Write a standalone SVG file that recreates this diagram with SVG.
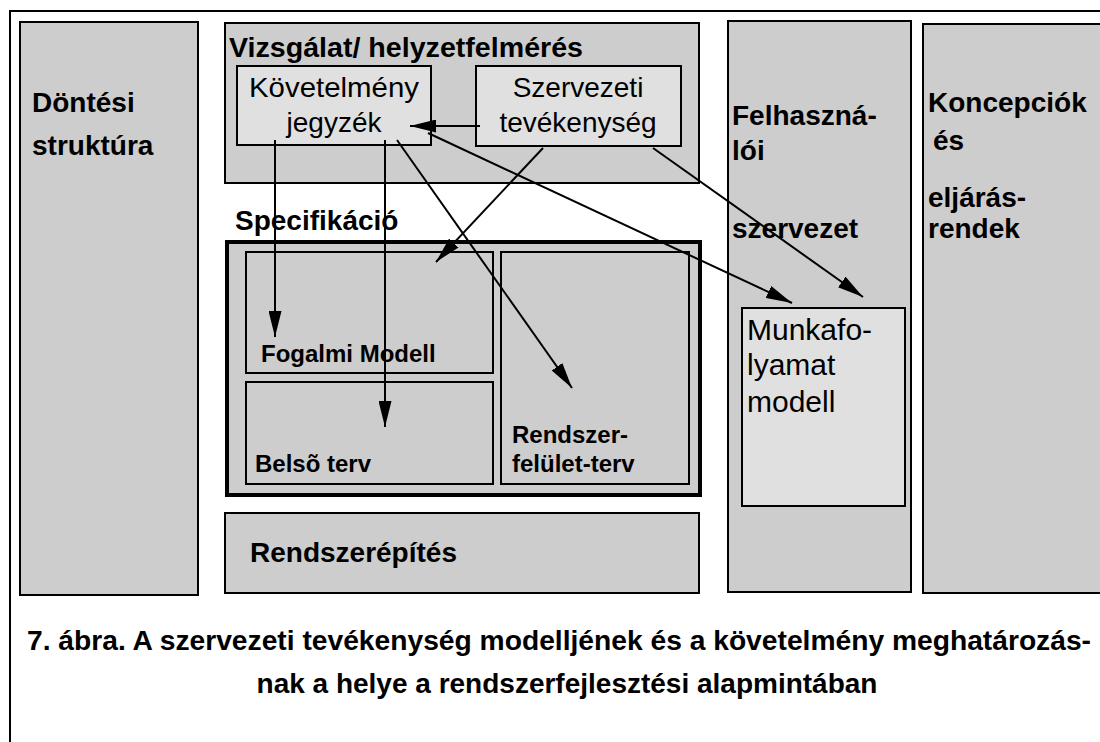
<svg xmlns="http://www.w3.org/2000/svg" width="1100" height="742" viewBox="0 0 1100 742">
<style>
text{font-family:"Liberation Sans",Arial,sans-serif;fill:#000}
.b{font-weight:bold;font-size:28px}
.bs{font-weight:bold;font-size:24px}
.r{font-size:28px}
.rm{font-size:30px}
.col{fill:#cdcdcd;stroke:#000;stroke-width:2}
.lt{fill:#e0e0e0;stroke:#000;stroke-width:2}
.con line{stroke:#000;stroke-width:2;marker-end:url(#ah)}
</style>
<defs>
<marker id="ah" markerUnits="userSpaceOnUse" markerWidth="26" markerHeight="13" refX="26" refY="6.5" orient="auto">
<path d="M0,0 L26,6.5 L0,13 z" fill="#000"/>
</marker>
</defs>
<rect x="0" y="0" width="1100" height="742" fill="#fff"/>
<rect id="frame" x="10" y="11" width="1200" height="800" fill="none" stroke="#000" stroke-width="2"/>

<g id="dontesi">
<rect class="col" x="20" y="22" width="178" height="573"/>
<text class="b" x="32" y="112">Döntési</text>
<text class="b" x="32" y="155">struktúra</text>
</g>

<g id="vizsgalat">
<rect class="col" x="225" y="23" width="474" height="160"/>
<text class="b" x="229" y="57" textLength="354" lengthAdjust="spacingAndGlyphs">Vizsgálat/ helyzetfelmérés</text>
</g>
<g id="kovetelmeny">
<rect class="lt" x="237" y="66" width="194" height="79"/>
<text class="r" x="334" y="97" text-anchor="middle" textLength="170" lengthAdjust="spacingAndGlyphs">Követelmény</text>
<text class="r" x="334" y="132" text-anchor="middle">jegyzék</text>
</g>
<g id="szervezeti">
<rect class="lt" x="476" y="66" width="205" height="80"/>
<text class="r" x="578" y="97" text-anchor="middle">Szervezeti</text>
<text class="r" x="578" y="132" text-anchor="middle">tevékenység</text>
</g>

<g id="specifikacio">
<text class="b" x="235" y="230">Specifikáció</text>
<rect x="227" y="242" width="473" height="253" fill="#cdcdcd" stroke="#000" stroke-width="4"/>
</g>
<g id="fogalmi">
<rect class="col" x="246" y="252" width="247" height="121"/>
<text class="bs" x="261" y="362">Fogalmi Modell</text>
</g>
<g id="belso">
<rect class="col" x="246" y="382" width="247" height="102"/>
<text class="bs" x="255" y="472">Belsõ terv</text>
</g>
<g id="rendszerfelulet">
<rect class="col" x="501" y="252" width="188" height="232"/>
<text class="bs" x="512" y="443">Rendszer-</text>
<text class="bs" x="512" y="472">felület-terv</text>
</g>

<g id="rendszerepites">
<rect class="col" x="225" y="513" width="474" height="80"/>
<text class="b" x="250" y="562">Rendszerépítés</text>
</g>

<g id="felhasznaloi">
<rect class="col" x="728" y="21" width="183" height="571"/>
<text class="b" x="732" y="125">Felhaszná-</text>
<text class="b" x="732" y="160">lói</text>
<text class="b" x="732" y="238">szervezet</text>
</g>
<g id="munkafolyamat">
<rect class="lt" x="742" y="308" width="163" height="198"/>
<text class="rm" x="747" y="340">Munkafo-</text>
<text class="rm" x="747" y="375">lyamat</text>
<text class="rm" x="747" y="412">modell</text>
</g>

<g id="koncepciok">
<rect class="col" x="923" y="24" width="250" height="569"/>
<text class="b" x="928" y="112">Koncepciók</text>
<text class="b" x="933" y="150">és</text>
<text class="b" x="928" y="207">eljárás-</text>
<text class="b" x="928" y="238">rendek</text>
</g>

<g id="connectors" class="con">
<line x1="480" y1="126" x2="410" y2="126"/>
<line x1="275" y1="140" x2="275" y2="337"/>
<line x1="385" y1="140" x2="385" y2="427"/>
<line x1="397" y1="140" x2="572" y2="388"/>
<line x1="543" y1="148" x2="436" y2="262"/>
<line x1="428" y1="133" x2="792" y2="303"/>
<line x1="653" y1="148" x2="863" y2="297"/>
</g>

<g id="caption">
<text class="b" x="559" y="650" text-anchor="middle" textLength="1064" lengthAdjust="spacingAndGlyphs">7. ábra. A szervezeti tevékenység modelljének és a követelmény meghatározás-</text>
<text class="b" x="567" y="693" text-anchor="middle">nak a helye a rendszerfejlesztési alapmintában</text>
</g>
</svg>
